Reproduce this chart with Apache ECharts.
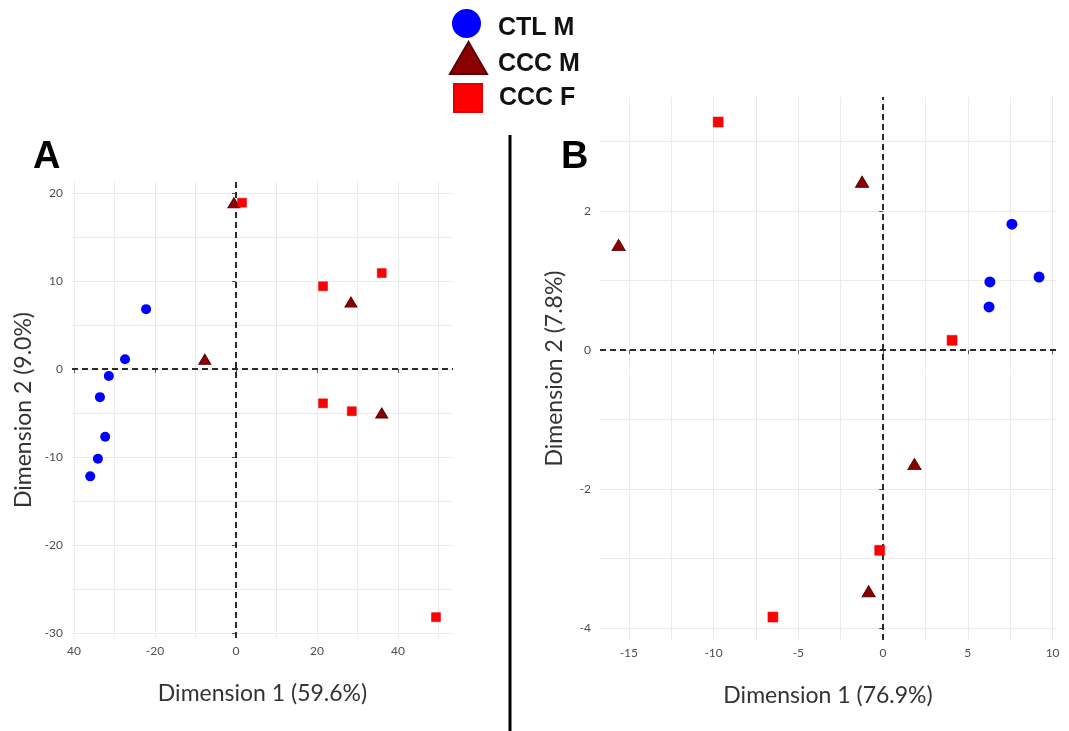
<!DOCTYPE html>
<html>
<head>
<meta charset="utf-8">
<script src="https://cdn.jsdelivr.net/npm/echarts@6/dist/echarts.min.js"></script>
<style>html,body{margin:0;padding:0;background:#fff}#c{width:1069px;height:731px}</style>
</head>
<body>
<div id="c"></div>
<script>
// ---------- Panel A data ----------
const aCtlM_x = [-22.2, -27.4, -31.4, -33.6, -32.3, -34.1, -36.0];
const aCtlM_y = [6.8, 1.1, -0.8, -3.2, -7.7, -10.2, -12.2];
const aCccM_x = [-7.7, -0.5, 28.4, 36.0];
const aCccM_y = [1.1, 18.9, 7.6, -5.0];
const aCccF_x = [1.5, 21.5, 36.0, 21.5, 28.6, 49.4];
const aCccF_y = [18.9, 9.4, 10.9, -3.9, -4.8, -28.2];
// ---------- Panel B data ----------
const bCtlM_x = [7.6, 9.2, 6.3, 6.25];
const bCtlM_y = [1.81, 1.05, 0.98, 0.62];
const bCccM_x = [-15.6, -1.24, 1.85, -0.85];
const bCccM_y = [1.51, 2.42, -1.64, -3.47];
const bCccF_x = [-9.73, 4.07, -0.2, -6.5];
const bCccF_y = [3.28, 0.14, -2.88, -3.84];
// ---------- Ticks ----------
const aXTicks = [-40, -20, 0, 20, 40];
const aXTickLabels = ['40', '-20', '0', '20', '40'];
const aYTicks = [-30, -20, -10, 0, 10, 20];
const aYTickLabels = ['-30', '-20', '-10', '0', '10', '20'];
const bXTicks = [-15, -10, -5, 0, 5, 10];
const bXTickLabels = ['-15', '-10', '-5', '0', '5', '10'];
const bYTicks = [-4, -2, 0, 2];
const bYTickLabels = ['-4', '-2', '0', '2'];
// gridlines (major + minor)
const aXGrid = [-40, -30, -20, -10, 0, 10, 20, 30, 40, 50];
const aYGrid = [-30, -25, -20, -15, -10, -5, 0, 5, 10, 15, 20];
const bXGrid = [-15, -12.5, -10, -7.5, -5, -2.5, 0, 2.5, 5, 7.5, 10];
const bYGrid = [-4, -3, -2, -1, 0, 1, 2, 3];
// names
const seriesNames = ['CTL M', 'CCC M', 'CCC F'];
const axisNames = {
  aX: 'Dimension 1 (59.6%)', aY: 'Dimension 2 (9.0%)',
  bX: 'Dimension 1 (76.9%)', bY: 'Dimension 2 (7.8%)'
};

const zip = (xs, ys) => xs.map((v, i) => [v, ys[i]]);
const FONT = 'Lato';

function mkAxis(isX, grid, min, max, ticks, labels, name, nameGap) {
  return {
    type: 'value', gridIndex: grid, min: min, max: max,
    splitLine: {show: false},
    axisLine: {show: false},
    axisTick: {show: true, customValues: ticks, length: 4, lineStyle: {color: '#555', width: 1}},
    axisLabel: {
      customValues: ticks, color: '#4d4d4d', fontSize: 12, fontFamily: FONT,
      margin: isX ? 7 : 9,
      formatter: v => { const i = ticks.indexOf(v); return i >= 0 ? labels[i] : ''; }
    },
    name: name, nameLocation: 'middle', nameGap: nameGap,
    nameTextStyle: {fontSize: 23, color: '#333', fontFamily: FONT}
  };
}

function helperSeries(xi, yi, xg, yg) {
  return [
    {
      type: 'scatter', xAxisIndex: xi, yAxisIndex: yi, data: [], z: 0, silent: true,
      markLine: {
        silent: true, symbol: 'none', animation: false, z: 0,
        label: {show: false},
        lineStyle: {color: '#ebebeb', width: 1, type: 'solid'},
        emphasis: {disabled: true},
        data: xg.map(v => ({xAxis: v})).concat(yg.map(v => ({yAxis: v})))
      }
    },
    {
      type: 'scatter', xAxisIndex: xi, yAxisIndex: yi, data: [], z: 1, silent: true,
      markLine: {
        silent: true, symbol: 'none', animation: false, z: 1,
        label: {show: false},
        lineStyle: {color: '#2a2a2a', width: 2, type: [6, 4]},
        emphasis: {disabled: true},
        data: [{xAxis: 0}, {yAxis: 0}]
      }
    }
  ];
}

function dataSeries(xi, yi, ctl, cccm, cccf, big) {
  const c = big ? 11 : 10, s = big ? 10 : 9, t = big ? [13, 11] : [12, 10];
  return [
    {name: seriesNames[0], type: 'scatter', xAxisIndex: xi, yAxisIndex: yi, z: 3,
     symbol: 'circle', symbolSize: c, data: ctl,
     itemStyle: {color: '#0000ff', opacity: 1}},
    {name: seriesNames[1], type: 'scatter', xAxisIndex: xi, yAxisIndex: yi, z: 3,
     symbol: 'triangle', symbolSize: t, data: cccm,
     itemStyle: {color: '#8b0000', borderColor: '#5a0000', borderWidth: 1, opacity: 1}},
    {name: seriesNames[2], type: 'scatter', xAxisIndex: xi, yAxisIndex: yi, z: 3,
     symbol: 'rect', symbolSize: s, data: cccf,
     itemStyle: {color: '#ff0000', borderColor: '#e00000', borderWidth: 0.5, opacity: 1}}
  ];
}

function mkLegend(name, icon, left, top, w, h, padTop, padLeft) {
  return {
    data: [{name: name, icon: icon}], left: left, top: top, orient: 'vertical',
    itemWidth: w, itemHeight: h, selectedMode: false, padding: 0,
    formatter: n => '{n|' + n + '}',
    textStyle: {
      fontSize: 25, fontWeight: 'bold', color: '#111', fontFamily: 'Liberation Sans',
      rich: {n: {fontSize: 25, fontWeight: 'bold', color: '#111', fontFamily: 'Liberation Sans',
                 padding: [padTop, 0, 0, padLeft]}}
    }
  };
}

const chart = echarts.init(document.getElementById('c'), null, {renderer: 'canvas'});
chart.setOption({
  animation: false,
  backgroundColor: '#ffffff',
  title: [
    {text: 'A', left: 28, top: 134, textStyle: {fontSize: 38, fontWeight: 'bold', color: '#000', fontFamily: 'Liberation Sans'}},
    {text: 'B', left: 556, top: 134, textStyle: {fontSize: 38, fontWeight: 'bold', color: '#000', fontFamily: 'Liberation Sans'}}
  ],
  legend: [
    mkLegend(seriesNames[0], 'circle', 452, 9, 29, 29, 10, 12),
    mkLegend(seriesNames[1], 'triangle', 449, 41, 37, 32, 12, 6),
    mkLegend(seriesNames[2], 'rect', 453, 83, 28, 28, 0, 12)
  ],
  grid: [
    {left: 72, right: 616, top: 182, bottom: 93},
    {left: 600, right: 13, top: 97, bottom: 91}
  ],
  xAxis: [
    mkAxis(true, 0, -40.5, 53.6, aXTicks, aXTickLabels, axisNames.aX, 44),
    mkAxis(true, 1, -16.7, 10.2, bXTicks, bXTickLabels, axisNames.bX, 44)
  ],
  yAxis: [
    mkAxis(false, 0, -30.57, 21.25, aYTicks, aYTickLabels, axisNames.aY, 37),
    mkAxis(false, 1, -4.17, 3.64, bYTicks, bYTickLabels, axisNames.bY, 34)
  ],
  graphic: [
    {type: 'line', shape: {x1: 510, y1: 135, x2: 510, y2: 731}, style: {stroke: '#000', lineWidth: 3}, z: 10}
  ],
  series: [].concat(
    helperSeries(0, 0, aXGrid, aYGrid),
    helperSeries(1, 1, bXGrid, bYGrid),
    dataSeries(0, 0, zip(aCtlM_x, aCtlM_y), zip(aCccM_x, aCccM_y), zip(aCccF_x, aCccF_y), false),
    dataSeries(1, 1, zip(bCtlM_x, bCtlM_y), zip(bCccM_x, bCccM_y), zip(bCccF_x, bCccF_y), true)
  )
});
</script>
</body>
</html>
